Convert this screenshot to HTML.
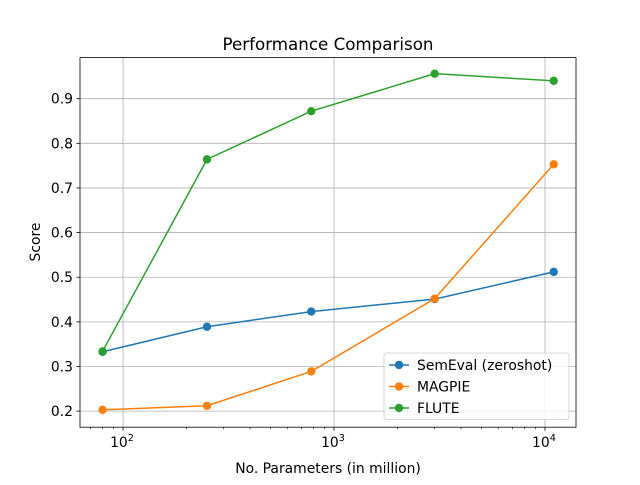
<!DOCTYPE html>
<html><head><meta charset="utf-8"><style>
body{margin:0;background:#fff}
svg text{font-family:"DejaVu Sans","Liberation Sans",sans-serif;fill:#000}
</style></head><body>
<svg id="chart" width="640" height="480" xmlns="http://www.w3.org/2000/svg">
<rect width="640" height="480" fill="#fff"/>
<g id="grid"></g>
<g id="series"></g>
<rect x="80" y="57.6" width="496" height="369.6" fill="none" stroke="#000" stroke-width="0.8"/>
<g id="ticks"></g>
<text x="328" y="50" font-size="16.7" text-anchor="middle">Performance Comparison</text>
<text x="328" y="473" font-size="13.9" text-anchor="middle">No. Parameters (in million)</text>
<text transform="translate(40,242) rotate(-90)" font-size="13.9" text-anchor="middle">Score</text>
<g id="legend"></g>
</svg>
<script>
const params = [80, 250, 780, 3000, 11000];
const seriesNames = ["SemEval (zeroshot)", "MAGPIE", "FLUTE"];
const semeval = [0.333, 0.389, 0.423, 0.451, 0.512];
const magpie = [0.203, 0.212, 0.289, 0.452, 0.753];
const flute = [0.334, 0.764, 0.872, 0.956, 0.940];
const colors = ["#1f77b4", "#ff7f0e", "#2ca02c"];
const yTicks = [0.2, 0.3, 0.4, 0.5, 0.6, 0.7, 0.8, 0.9];
const xTicks = [100, 1000, 10000];
const xTickLabels = ["2", "3", "4"];

const NS = "http://www.w3.org/2000/svg";
const L = 80, R = 576, T = 57.6, B = 427.2;
const xMin = 1.796, xMax = 4.147, yMin = 0.164, yMax = 0.992;
const xs = v => L + (Math.log10(v) - xMin) / (xMax - xMin) * (R - L);
const ys = v => B - (v - yMin) / (yMax - yMin) * (B - T);
function mk(tag, attrs, parent) {
  const e = document.createElementNS(NS, tag);
  for (const k in attrs) e.setAttribute(k, attrs[k]);
  parent.appendChild(e);
  return e;
}
const grid = document.getElementById("grid");
const ticks = document.getElementById("ticks");
yTicks.forEach(t => {
  const y = ys(t);
  const g = mk("line", {x1: L, x2: R, y1: y, y2: y, stroke: "#b0b0b0", "stroke-width": 0.8}, grid);
  
  
  mk("line", {x1: L - 3.5, x2: L, y1: y, y2: y, stroke: "#000", "stroke-width": 0.8}, ticks);
  const tx = mk("text", {x: L - 7, y: y + 5, "font-size": 13.9, "text-anchor": "end"}, ticks);
  tx.textContent = t.toFixed(1);
  
  
});
xTicks.forEach((t, i) => {
  const x = xs(t);
  const g = mk("line", {x1: x, x2: x, y1: T, y2: B, stroke: "#b0b0b0", "stroke-width": 0.8}, grid);
  
  
  mk("line", {x1: x, x2: x, y1: B, y2: B + 3.5, stroke: "#000", "stroke-width": 0.8}, ticks);
  const tx = mk("text", {x: x - 1, y: B + 20, "font-size": 13.9, "text-anchor": "middle"}, ticks);
  tx.textContent = "10";
  const sup = mk("tspan", {dy: -6, "font-size": 9.7}, tx);
  sup.textContent = xTickLabels[i];
  
  
});
for (let d = 10; d <= 10000; d *= 10) {
  for (let m = 2; m <= 9; m++) {
    const v = d * m;
    const lv = Math.log10(v);
    if (lv < xMin || lv > xMax) continue;
    const x = xs(v);
    mk("line", {x1: x, x2: x, y1: B, y2: B + 2, stroke: "#000", "stroke-width": 0.6}, ticks);
  }
}
const sg = document.getElementById("series");
[semeval, magpie, flute].forEach((vals, si) => {
  const pts = vals.map((v, i) => xs(params[i]) + "," + ys(v)).join(" ");
  const pl = mk("polyline", {points: pts, fill: "none", stroke: colors[si], "stroke-width": 1.5}, sg);
  
  
  vals.forEach((v, i) => {
    const c = mk("circle", {cx: xs(params[i]), cy: ys(v), r: 4.2, fill: colors[si]}, sg);
    
    
  });
});
const lg = document.getElementById("legend");
mk("rect", {x: 384, y: 353, width: 185, height: 66.5, rx: 2.5, fill: "#fff", "fill-opacity": 0.8, stroke: "#ccc", "stroke-width": 0.8}, lg);
seriesNames.forEach((n, i) => {
  const y = 365 + i * 21.5;
  mk("line", {x1: 389, x2: 409, y1: y, y2: y, stroke: colors[i], "stroke-width": 1.5}, lg);
  mk("circle", {cx: 399, cy: y, r: 4.2, fill: colors[i]}, lg);
  const t = mk("text", {x: 417, y: y + 5, "font-size": 13.9}, lg);
  t.textContent = n;
  
  
});
</script>
</body></html>
